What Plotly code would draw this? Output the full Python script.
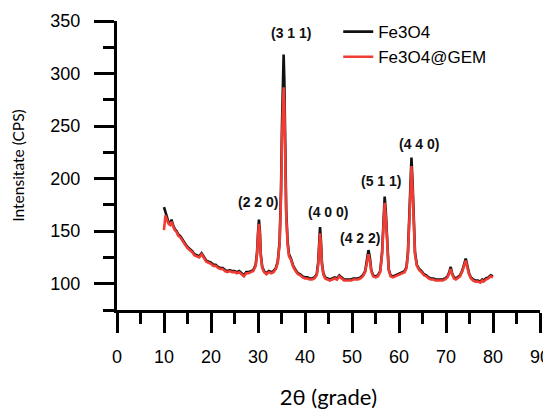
import plotly.graph_objects as go

two_theta = [
    10.0, 10.3, 10.6, 11.0, 11.3, 11.6, 11.9, 12.3, 12.7, 13.0, 13.5, 14.0, 14.5, 15.0,
    15.5, 16.0, 16.5, 17.0, 17.5, 18.0, 18.3, 18.7, 19.0, 19.5, 20.0, 20.5, 21.0, 21.5,
    22.0, 22.5, 23.0, 23.5, 24.0, 24.5, 25.0, 25.5, 26.0, 26.5, 27.0, 27.5, 28.0, 28.5,
    29.0, 29.5, 29.8, 30.0, 30.2, 30.4, 30.6, 30.9, 31.3, 31.8, 32.3, 32.8, 33.3, 33.8,
    34.2, 34.6, 34.9, 35.1, 35.3, 35.45, 35.6, 35.8, 36.0, 36.3, 36.6, 37.0, 37.5, 38.0,
    38.5, 39.0, 39.5, 40.0, 40.5, 41.0, 41.5, 42.0, 42.5, 42.8, 43.0, 43.2, 43.4, 43.6,
    43.9, 44.3, 44.8, 45.3, 45.8, 46.3, 46.8, 47.3, 47.8, 48.3, 48.8, 49.3, 49.8, 50.3,
    50.8, 51.3, 51.8, 52.3, 52.8, 53.2, 53.5, 53.8, 54.1, 54.5, 55.0, 55.5, 56.0, 56.4,
    56.7, 56.95, 57.2, 57.5, 57.8, 58.2, 58.7, 59.2, 59.7, 60.2, 60.7, 61.2, 61.6, 61.9,
    62.2, 62.45, 62.65, 62.9, 63.1, 63.4, 63.8, 64.3, 64.8, 65.3, 65.8, 66.3, 66.8, 67.3,
    67.8, 68.3, 68.8, 69.3, 69.8, 70.3, 70.7, 71.0, 71.3, 71.7, 72.1, 72.5, 73.0, 73.5,
    73.9, 74.2, 74.5, 74.9, 75.3, 75.8, 76.3, 76.8, 77.3, 77.7, 78.0, 78.5, 79.0, 79.5,
    80.0,
]

fe3o4 = [
    173, 168, 163, 158, 157, 161, 156, 152, 150, 147, 145, 141, 138, 135,
    133, 131, 128, 127, 126, 129, 127, 124, 122, 121, 120, 118, 118, 116,
    115, 115, 113, 112, 113, 112, 112, 111, 112, 110, 108, 111, 111, 112,
    113, 118, 130, 148, 161, 150, 128, 116, 112, 110, 112, 111, 112, 115,
    121, 140, 190, 250, 300, 318, 295, 230, 170, 140, 128, 124, 117, 113,
    110, 109, 107, 106, 106, 105, 105, 106, 109, 120, 140, 154, 140, 120,
    110, 106, 105, 104, 105, 106, 105, 108, 106, 104, 104, 104, 104, 105,
    105, 105, 106, 108, 112, 122, 132, 125, 113, 108, 107, 108, 112, 130,
    160, 183, 168, 135, 114, 108, 107, 108, 109, 110, 111, 112, 116, 130,
    165, 200, 220, 195, 160, 130, 118, 114, 112, 109, 108, 106, 105, 105,
    104, 104, 104, 104, 105, 107, 111, 116, 110, 106, 105, 106, 108, 113,
    120, 124, 118, 110, 106, 104, 103, 103, 102, 104, 103, 105, 106, 108,
    107,
]

fe3o4_gem = [
    151, 165, 161, 157, 156, 159, 155, 151, 149, 146, 144, 140, 137, 134,
    132, 130, 127, 126, 125, 128, 126, 123, 121, 120, 119, 117, 117, 115,
    114, 114, 112, 111, 112, 111, 111, 110, 111, 109, 107, 110, 110, 111,
    112, 117, 128, 145, 157, 147, 126, 115, 111, 109, 111, 110, 111, 114,
    120, 138, 183, 238, 278, 287, 272, 220, 165, 137, 126, 123, 116, 112,
    109, 108, 106, 105, 105, 104, 104, 105, 108, 118, 136, 148, 136, 118,
    109, 105, 104, 103, 104, 105, 104, 107, 105, 103, 103, 103, 103, 104,
    104, 104, 105, 107, 111, 120, 128, 122, 112, 107, 106, 107, 111, 128,
    157, 177, 163, 132, 113, 107, 106, 107, 108, 109, 110, 111, 115, 128,
    160, 194, 212, 188, 156, 128, 117, 113, 111, 108, 107, 105, 104, 104,
    103, 103, 103, 103, 104, 106, 110, 114, 109, 105, 104, 105, 107, 112,
    118, 122, 116, 109, 105, 103, 102, 102, 101, 103, 102, 104, 105, 107,
    106,
]

series_names = ["Fe3O4", "Fe3O4@GEM"]
peak_labels = ["(2 2 0)", "(3 1 1)", "(4 0 0)", "(4 2 2)", "(5 1 1)", "(4 4 0)"]
x_ticks = [0, 10, 20, 30, 40, 50, 60, 70, 80, 90]
y_ticks = [100, 150, 200, 250, 300, 350]

label_pos = [(30.06, 177.6), (37.0, 338.4), (44.96, 168.1), (51.77, 143.5), (56.23, 197.4), (64.32, 233.4)]

fig = go.Figure()
fig.add_trace(go.Scatter(x=two_theta, y=fe3o4, mode="lines", name=series_names[0],
                         line=dict(color="#111111", width=2.6)))
fig.add_trace(go.Scatter(x=two_theta, y=fe3o4_gem, mode="lines", name=series_names[1],
                         line=dict(color="#f03c32", width=2.6)))

for lab, (lx, ly) in zip(peak_labels, label_pos):
    fig.add_annotation(x=lx, y=ly, text=lab, showarrow=False, xanchor="center", yanchor="middle",
                       font=dict(family="Liberation Sans, Arial", size=14, color="#111111", weight="bold"))

axis_common = dict(showline=True, linewidth=3, linecolor="black", ticks="outside", ticklen=20,
                   tickwidth=3, tickcolor="black", showgrid=False, zeroline=False, automargin=False,
                   tickfont=dict(family="Liberation Sans, Arial", size=18, color="black"))

fig.update_xaxes(range=[0, 90], tickvals=x_ticks, ticklabelstandoff=8,
                 minor=dict(ticks="outside", ticklen=11, tickwidth=3, tickcolor="black", dtick=5, showgrid=False),
                 title=dict(text="2θ (grade)", font=dict(family="Lato", size=22, color="black"), standoff=25),
                 **axis_common)
fig.update_yaxes(range=[75, 350], tickvals=y_ticks, ticklabelstandoff=10,
                 minor=dict(ticks="outside", ticklen=11, tickwidth=3, tickcolor="black", dtick=25, tick0=75, showgrid=False),
                 title=dict(text="Intensitate (CPS)", font=dict(family="Lato", size=15.5, color="black"), standoff=22),
                 **axis_common)

# the page body has an 8px default margin, so the figure is sized to end at the window edge
fig.update_layout(
    width=543, height=404,
    margin=dict(l=109, r=11, t=13, b=102, autoexpand=False),
    plot_bgcolor="white", paper_bgcolor="white",
    legend=dict(x=0.523, y=1.024, xanchor="left", yanchor="top", bgcolor="rgba(0,0,0,0)",
                font=dict(family="Liberation Sans, Arial", size=17, color="black"),
                itemwidth=30, tracegroupgap=0),
    showlegend=True,
)

fig.write_html("out.html")
